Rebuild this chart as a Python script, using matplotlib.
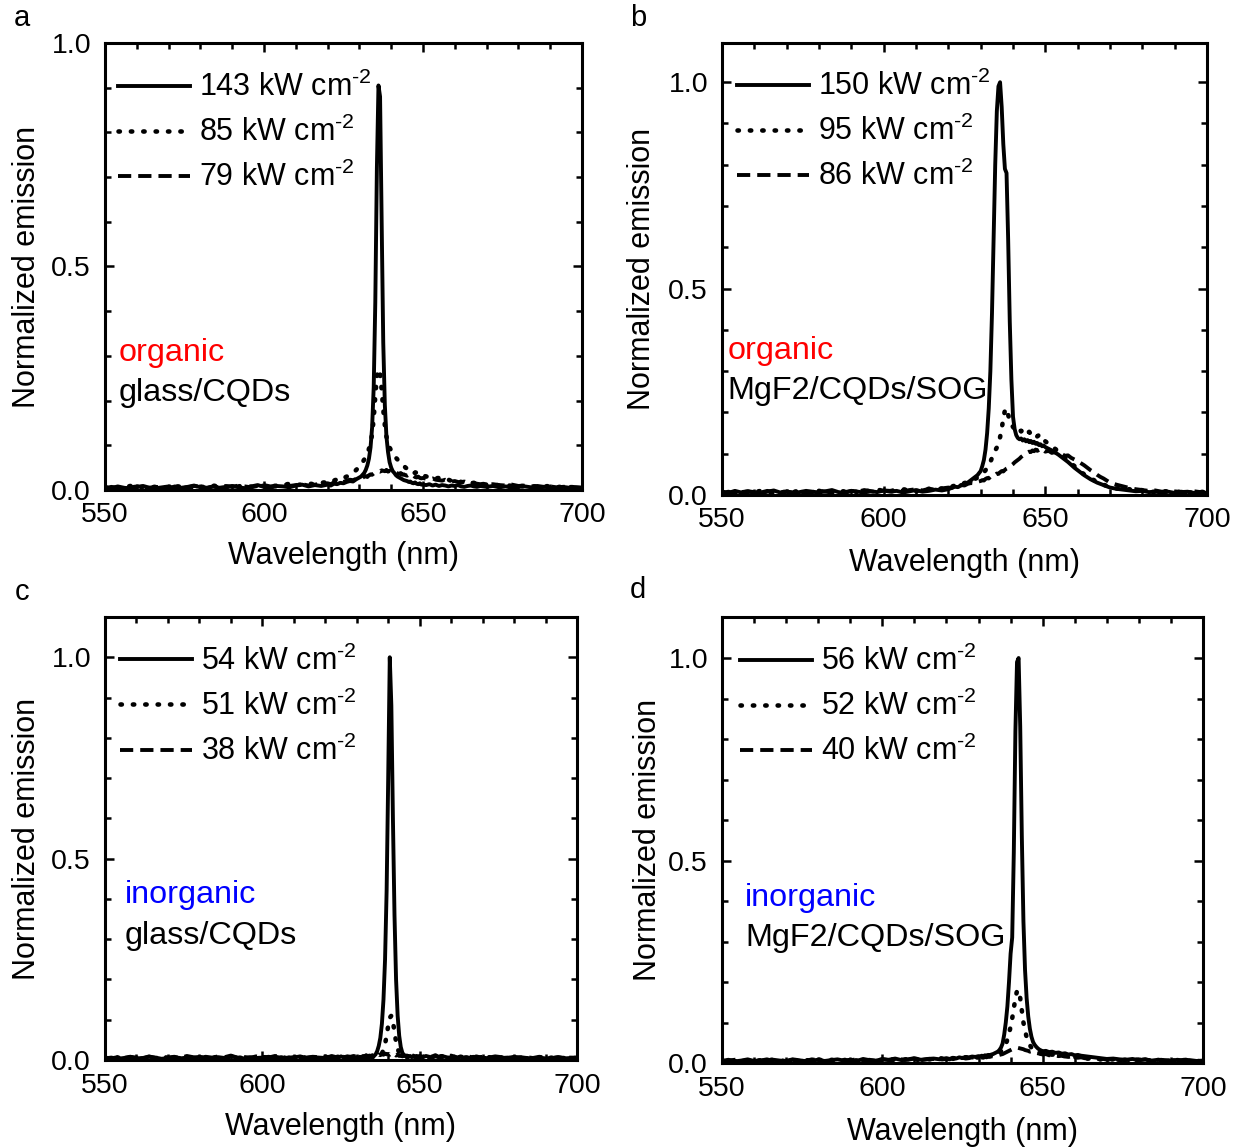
import numpy as np
import matplotlib
matplotlib.use('Agg')
import matplotlib.pyplot as plt
from matplotlib.ticker import MultipleLocator

plt.rcParams['font.family'] = ['Liberation Sans', 'DejaVu Sans']
plt.rcParams['mathtext.fontset'] = 'custom'
plt.rcParams['mathtext.rm'] = 'Liberation Sans'
plt.rcParams['mathtext.it'] = 'Liberation Sans:italic'
plt.rcParams['mathtext.bf'] = 'Liberation Sans:bold'
plt.rcParams['font.size'] = 20

# ---------------- data ----------------
# wavelength sampling (nm): coarse in the baseline, fine around the lasing peak
WL = np.concatenate([np.arange(550, 620, 2), np.arange(620, 630, 1),
                     np.arange(630, 650, 0.5), np.arange(650, 670, 1),
                     np.arange(670, 701, 2)])

# normalized emission, in units of 1/1000
# panel a: organic, glass/CQDs
A_143 = [6,4,8,5,3,7,9,5,4,6,8,3,5,7,10,6,4,8,5,7,9,6,4,8,11,7,5,9,8,6,10,12,8,11,9,
         12,10,14,13,16,15,18,20,19,24,
         28,30,34,38,45,55,70,95,140,230, 420,720,905,880,600,330,190,120,85,62,
         50,42,38,33,30,28,26,24,22,21, 20,18,19,16,15,17,14,13,15,12,
         12,11,13,10,12,9,11,10,8,10,9,11,8,7,9,10,8,7,9,8,
         7,9,6,8,5,7,8,6,5,7,6,4,7,5,6,5]
A_85 = [5,8,4,6,9,5,7,4,8,6,5,9,7,4,6,8,5,10,7,6,9,8,11,7,10,9,12,8,11,14,10,13,15,12,16,
        18,16,21,24,22,27,30,34,38,45,
        52,58,62,68,75,82,92,105,125,160, 210,255,270,260,225,180,145,120,105,95,
        88,82,78,72,68,63,60,56,54,50, 48,46,43,45,40,38,40,36,34,35,
        33,30,31,28,26,27,24,22,23,20,19,21,18,17,18,15,16,14,15,13,
        12,13,10,11,9,10,8,9,7,8,9,6,8,7,5,6]
A_79 = [4,7,5,3,6,8,4,5,7,6,4,8,5,6,9,7,5,8,6,9,7,10,8,6,9,11,8,10,12,9,11,13,10,12,14,
        15,13,17,16,19,18,21,23,22,25,
        26,28,27,30,31,29,33,35,34,37, 38,40,42,41,44,43,42,45,41,43,
        40,42,38,39,37,36,38,34,35,33, 32,34,31,30,32,29,28,30,27,26,
        27,25,24,26,23,22,21,23,20,19,20,18,17,19,16,15,16,14,13,14,
        12,13,11,10,12,9,10,8,9,7,8,6,7,8,6,5]

# panel b: organic, MgF2/CQDs/SOG
B_150 = [8,5,10,6,9,7,4,8,11,6,9,5,7,10,8,6,9,12,7,5,10,8,6,9,7,11,8,10,6,9,12,8,10,13,11,
         14,17,20,19,24,27,30,36,42,48,
         58,70,85,110,150,210,300,440,620,800, 930,990,1000,940,850,790,780,620,420,280,
         190,160,145,138,135,137,132,135,130,133, 128,131,126,129,124,126,121,123,118,120,
         116,112,108,103,98,92,86,80,73,66,60,54,48,43,38,34,30,27,24,21,
         18,15,13,11,9,10,7,8,6,8,5,7,8,5,7,4]
B_95 = [6,9,5,8,4,7,10,6,8,5,9,7,11,6,8,10,7,9,12,8,10,7,11,9,13,10,8,12,14,11,9,13,15,12,16,
        18,20,23,22,26,29,31,35,38,42,
        46,50,55,60,66,72,80,90,100,108, 115,125,140,160,185,205,210,195,178,170,
        165,160,162,156,160,154,158,152,155,150, 153,148,150,145,148,142,145,138,140,134,
        130,124,120,112,106,98,92,84,76,70,62,56,50,45,40,36,32,28,25,22,
        19,16,13,14,10,12,9,7,10,8,6,9,7,5,8,6]
B_86 = [5,8,4,7,9,5,6,10,7,4,8,6,9,5,7,11,8,6,9,7,10,8,12,9,7,11,10,13,9,12,14,11,15,13,16,
        18,17,21,20,24,23,27,29,28,32,
        34,36,35,39,41,40,44,46,45,49, 52,51,55,58,57,61,64,66,70,72,
        75,79,82,85,88,92,95,98,100,103, 105,104,108,106,110,107,109,111,106,108,
        105,107,102,104,99,100,95,96,90,86,82,77,72,66,60,55,49,44,40,35,
        30,25,21,17,14,12,10,11,8,9,7,8,6,9,7,5]

# panel c: inorganic, glass/CQDs
C_54 = [4,6,3,5,7,4,5,8,6,3,5,7,4,6,5,8,6,4,7,5,9,6,4,7,5,6,8,5,7,4,6,9,5,7,6,
        5,8,6,7,5,9,6,8,7,6,
        7,5,8,6,7,9,6,8,7,9, 8,10,14,22,35,55,90,150,250,420,
        700,1000,880,600,360,200,110,60,32,18, 12,10,11,8,10,7,9,8,10,7,
        9,7,10,8,6,9,7,10,8,6,7,9,5,8,6,7,5,8,6,7,
        6,4,7,5,6,4,7,5,3,6,4,5,7,4,5,6]
C_51 = [5,3,6,4,7,5,3,6,4,8,5,6,4,7,5,3,6,8,5,4,7,6,5,3,6,8,4,7,5,6,4,7,5,3,6,
        7,5,4,6,8,5,7,4,6,5,
        6,4,7,5,6,8,5,7,6,8, 7,9,8,10,9,12,16,25,40,60,
        85,105,110,95,70,45,28,18,12,9, 8,10,7,9,6,8,7,5,8,6,
        7,5,8,6,4,7,5,8,6,5,7,4,6,8,5,6,4,7,5,6,
        5,7,4,6,3,5,7,4,6,5,3,6,4,5,7,4]
C_38 = [6,4,7,5,8,6,4,9,5,7,6,8,5,10,7,5,8,6,9,7,11,6,8,5,9,7,6,10,8,5,7,9,6,8,7,
        9,7,10,8,6,11,7,9,8,10,
        8,11,9,7,10,8,12,9,11,10, 12,10,13,11,14,12,15,13,16,14,
        15,13,16,12,14,11,13,10,12,9, 11,10,12,8,10,9,11,7,9,8,
        10,8,11,7,9,12,8,10,7,9,11,8,6,9,7,10,8,6,9,7,
        8,6,9,7,5,8,6,7,5,8,6,4,7,5,6,5]

# panel d: inorganic, MgF2/CQDs/SOG
D_56 = [5,8,4,6,9,5,7,4,8,6,5,9,7,4,6,8,5,7,9,6,8,5,10,7,6,9,8,11,7,9,12,8,10,11,9,
        12,10,13,11,14,12,15,14,16,15,
        17,16,18,17,19,18,20,19,21,22, 24,26,28,32,38,48,70,100,140,200,
        270,310,520,820,990,1000,830,560,350,230, 160,115,85,65,52,45,40,36,33,31,
        29,30,27,28,25,26,23,24,21,22,19,20,18,17,16,15,14,13,12,11,
        10,11,9,8,10,7,9,6,8,7,5,8,6,7,5,6]
D_52 = [5,7,4,8,6,3,7,5,9,6,4,8,5,7,6,9,5,8,6,7,10,6,8,5,9,7,10,8,6,11,9,7,10,8,12,
        9,11,10,13,11,12,14,12,15,13,
        14,16,15,17,16,18,17,19,18,20, 21,22,24,26,29,33,38,46,58,72,
        90,110,135,160,178,180,160,130,100,80, 64,52,44,38,34,30,28,25,26,23,
        22,24,20,21,18,19,17,18,15,16,14,15,12,13,11,12,10,11,9,10,
        8,9,7,8,6,9,7,5,8,6,7,5,8,6,4,6]
D_40 = [4,6,8,5,7,3,6,9,5,7,4,8,6,5,9,7,4,6,8,5,7,9,6,8,5,10,7,6,9,8,11,7,9,10,8,
        10,9,12,10,11,13,11,12,14,12,
        13,12,14,13,15,14,16,15,17,16, 18,17,19,20,21,22,24,26,28,30,
        32,34,36,37,38,37,36,35,34,32, 31,30,28,29,27,26,25,24,23,22,
        21,22,19,20,18,17,18,16,15,16,14,13,14,12,11,12,10,11,9,10,
        8,9,7,8,6,7,9,5,8,6,7,5,8,6,5,4]

LEG_A = ['143', '85', '79']
LEG_B = ['150', '95', '86']
LEG_C = ['54', '51', '38']
LEG_D = ['56', '52', '40']

X_TICKS = [550, 600, 650, 700]
Y_TICKS = [0.0, 0.5, 1.0]

UNIT = r' kW cm$^{\text{-}2}$'

# ---------------- layout ----------------
fig = plt.figure(figsize=(12.43, 11.47), dpi=100)

panels = [
    dict(rect=[0.08447, 0.57280, 0.38375, 0.38971], ylim=1.0, series=[A_143, A_85, A_79],
         leg=LEG_A, letter='a', lpos=(22, 18), leg_anchor=(0.027, 0.935),
         ylp=7.0, xlp=9.0,
         t1='organic', c1='#ff0000', t2='glass/CQDs', tx=0.029, ty1=0.306, ty2=0.217),
    dict(rect=[0.58085, 0.56844, 0.39019, 0.39407], ylim=1.095, series=[B_150, B_95, B_86],
         leg=LEG_B, letter='b', lpos=(638, 18), leg_anchor=(0.031, 0.938),
         ylp=8.5, xlp=10.5,
         t1='organic', c1='#ff0000', t2='MgF2/CQDs/SOG', tx=0.012, ty1=0.319, ty2=0.230),
    dict(rect=[0.08447, 0.07585, 0.37973, 0.38622], ylim=1.1, series=[C_54, C_51, C_38],
         leg=LEG_C, letter='c', lpos=(22, 592), leg_anchor=(0.032, 0.935),
         ylp=7.0, xlp=9.5,
         t1='inorganic', c1='#0000ff', t2='glass/CQDs', tx=0.042, ty1=0.372, ty2=0.280),
    dict(rect=[0.58085, 0.07323, 0.38697, 0.38841], ylim=1.1, series=[D_56, D_52, D_40],
         leg=LEG_D, letter='d', lpos=(638, 590), leg_anchor=(0.037, 0.936),
         ylp=3.5, xlp=11.0,
         t1='inorganic', c1='#0000ff', t2='MgF2/CQDs/SOG', tx=0.048, ty1=0.370, ty2=0.281),
]

W, H = 1243, 1147
for p in panels:
    ax = fig.add_axes(p['rect'])
    s_solid, s_dot, s_dash = [np.array(s) / 1000.0 for s in p['series']]
    l1, l2, l3 = p['leg']
    ax.plot(WL, s_solid, color='k', lw=2.8, solid_joinstyle='round',
            label=l1 + UNIT)
    ax.plot(WL, s_dot, color='k', lw=3.3, linestyle=(0, (0.3, 2.4)),
            dash_capstyle='round', label=l2 + UNIT)
    ax.plot(WL, s_dash, color='k', lw=2.8, linestyle=(0, (3.4, 1.8)),
            label=l3 + UNIT)

    ax.set_xlim(550, 700)
    ax.set_ylim(0, p['ylim'])
    ax.set_xticks(X_TICKS)
    ax.set_yticks(Y_TICKS)
    ax.set_xticklabels([str(v) for v in X_TICKS])
    ax.set_yticklabels(['%.1f' % v for v in Y_TICKS])
    ax.xaxis.set_minor_locator(MultipleLocator(10))
    ax.yaxis.set_minor_locator(MultipleLocator(0.1))
    ax.tick_params(which='both', direction='in', top=True, right=True, width=1.8)
    ax.tick_params(which='major', length=6.5)
    ax.tick_params(which='minor', length=4)
    ax.tick_params(axis='x', which='major', pad=9, labelsize=20.5)
    ax.tick_params(axis='y', which='major', pad=10, labelsize=20.5)
    for sp in ax.spines.values():
        sp.set_linewidth(2.2)

    ax.set_xlabel('Wavelength (nm)', fontsize=22, labelpad=p['xlp'])
    ax.set_ylabel('Normalized emission', fontsize=22, labelpad=p['ylp'])

    ax.legend(loc='upper left', bbox_to_anchor=p['leg_anchor'], frameon=False,
              borderpad=0, borderaxespad=0, handlelength=2.35, handletextpad=0.3,
              labelspacing=0.45, fontsize=22)

    ax.text(p['tx'], p['ty1'], p['t1'], color=p['c1'], transform=ax.transAxes,
            ha='left', va='center', fontsize=23.3)
    ax.text(p['tx'], p['ty2'], p['t2'], color='k', transform=ax.transAxes,
            ha='left', va='center', fontsize=23.3)

    fig.text(p['lpos'][0] / W, 1 - p['lpos'][1] / H, p['letter'],
             ha='center', va='center', fontsize=21)

fig.savefig('out.png', dpi=100)
